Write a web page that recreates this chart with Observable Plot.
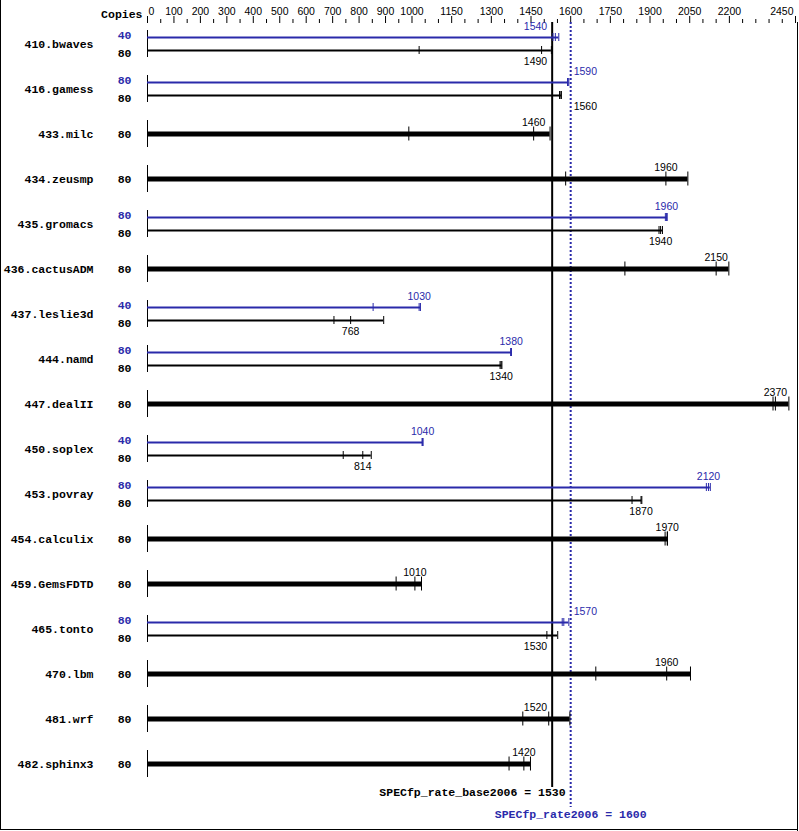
<!DOCTYPE html>
<html><head><meta charset="utf-8">
<script src="https://cdn.jsdelivr.net/npm/d3@7"></script>
<script src="https://cdn.jsdelivr.net/npm/@observablehq/plot@0.6"></script>
<style>
body{margin:0;background:#fff}
#chart{position:relative;width:799px;height:831px;overflow:hidden}
#chart svg{position:absolute;left:0;top:0}
.bl{position:absolute;left:0;top:0;width:798px;height:830px;border-left:1px solid #000;border-bottom:1px solid #000;box-sizing:border-box;pointer-events:none}
.br{position:absolute;left:797px;top:22px;width:1px;height:809px;background:#000}
</style>
</head><body><div id="chart"><div class="bl"></div><div class="br"></div></div>
<script>
// ---- data ----
const benchmarks = ["410.bwaves","416.gamess","433.milc","434.zeusmp","435.gromacs","436.cactusADM","437.leslie3d","444.namd","447.dealII","450.soplex","453.povray","454.calculix","459.GemsFDTD","465.tonto","470.lbm","481.wrf","482.sphinx3"];
const baseCopies = [80,80,80,80,80,80,80,80,80,80,80,80,80,80,80,80,80];
const peakCopies = [40,80,null,null,80,null,40,80,null,40,80,null,null,80,null,null,null];
const baseRuns = [
  [1027,1490,1527],[1558,1560,1565],[988,1460,1522],[1581,1960,2043],[1934,1940,1947],
  [1805,2150,2198],[705,768,893],[1333,1337,1340],[2365,2374,2425],[740,814,846],
  [1832,1866,1869],[1957,1965,1966],[940,1011,1036],[1510,1530,1551],[1695,1963,2053],
  [1419,1517,1597],[1367,1423,1448]
];
const baseMedian = [1490,1560,1460,1960,1940,2150,768,1340,2370,814,1870,1970,1010,1530,1960,1520,1420];
const peakRuns = [
  [1533,1542,1555],[1588,1590,1593],null,null,[1958,1962,1965],
  null,[853,1027,1032],[1373,1375,1376],null,[1038,1040,1042],
  [2113,2121,2128],null,null,[1568,1574,1593],null,null,null
];
const peakMedian = [1540,1590,null,null,1960,null,1030,1380,null,1040,2120,null,null,1570,null,null,null];
const baseMean = 1530;
const peakMean = 1600;
const axisMajor = [0,100,200,300,400,500,600,700,800,900,1000,1150,1300,1450,1600,1750,1900,2050,2200,2450];

// ---- layout / style ----
const BLUE = "#2a2aaa";
const MONO = "'Liberation Mono', 'DejaVu Sans Mono', monospace";
const SANS = "'Liberation Sans', Arial, sans-serif";
const ROW = 45; // px per row
const axisMinor = d3.range(0, 2451, 50).filter(v => !axisMajor.includes(v));
const xs = Plot.scale({x: {domain: [0, 2450], range: [147, 795]}});
const xb = xs.apply(baseMean), xp = xs.apply(peakMean);

const lines = [], ticks = [], labels = [], copies = [];
benchmarks.forEach((name, i) => {
  const pair = peakCopies[i] != null;
  const groups = pair
    ? [{runs: peakRuns[i], med: peakMedian[i], color: BLUE, off: -6.5, w: 2, h: 4, lab: -17, cp: peakCopies[i], cpo: -8.3},
       {runs: baseRuns[i], med: baseMedian[i], color: "black", off: 6.5, w: 2, h: 4, lab: 17.5, cp: baseCopies[i], cpo: 9.8}]
    : [{runs: baseRuns[i], med: baseMedian[i], color: "black", off: 0, w: 5, h: 7, lab: -11.5, cp: baseCopies[i], cpo: 0}];
  for (const g of groups) {
    const y = i + g.off / ROW;
    const sorted = [...g.runs].sort((a, b) => a - b);
    lines.push({y, v: sorted[sorted.length - 1], color: g.color, w: g.w});
    for (const v of sorted) ticks.push({y1: y - g.h / ROW, y2: y + g.h / ROW, v, color: g.color});
    const mv = sorted[1];
    const c = xs.apply(mv);
    const hw = 12;
    const hit = (c - hw < xb + 1 && c + hw > xb - 1) || (c - hw < xp + 1 && c + hw > xp - 1);
    const side = !hit ? "middle" : (c < xb + 4 ? "end" : "start");
    labels.push({y: i + g.lab / ROW, v: mv, text: String(g.med), color: g.color, side});
    copies.push({y: i + g.cpo / ROW, text: String(g.cp), color: g.color});
  }
});

const numStyle = {fontFamily: SANS, fontSize: 10.5};
const monoStyle = {fontFamily: MONO, fontSize: 11.5, fontWeight: "bold"};
const fmt = d => String(d);

const chart = Plot.plot({
  width: 799, height: 831,
  marginTop: 22, marginLeft: 147, marginRight: 4, marginBottom: 44,
  x: {domain: [0, 2450], axis: null},
  y: {domain: [0, 16], range: [43.5, 763.5], axis: null},
  color: {type: "identity"},
  style: {background: "transparent", overflow: "visible"},
  marks: [
    // top axis
    Plot.axisX(axisMajor, {anchor: "top", tickSize: 7, tickFormat: () => "", label: null, stroke: "black"}),
    Plot.axisX(axisMinor, {anchor: "top", tickSize: 4, tickFormat: () => "", label: null, stroke: "black"}),
    Plot.text(axisMajor.slice(1, -1), {x: d => d, text: fmt, frameAnchor: "top", dy: -15, ...numStyle, fill: "black"}),
    Plot.text(axisMajor.slice(0, 1), {x: d => d, text: fmt, frameAnchor: "top", dy: -15, dx: 1, textAnchor: "start", ...numStyle, fill: "black"}),
    Plot.text(axisMajor.slice(-1), {x: d => d, text: fmt, frameAnchor: "top", dy: -15, dx: -2, textAnchor: "end", ...numStyle, fill: "black"}),
    Plot.text(["Copies"], {x: () => 0, frameAnchor: "top", dy: -12.5, dx: -5, textAnchor: "end", ...monoStyle, fill: "black"}),
    // mean lines
    Plot.ruleX([baseMean], {x: d => d, stroke: "black", strokeWidth: 2}),
    Plot.ruleX([peakMean], {x: d => d, stroke: BLUE, strokeWidth: 2, strokeDasharray: "2,2", insetBottom: -20}),
    Plot.text([`SPECfp_rate_base2006 = ${baseMean}`], {x: () => peakMean, frameAnchor: "bottom", dy: 8, dx: -5, textAnchor: "end", ...monoStyle, fill: "black"}),
    Plot.text([`SPECfp_rate2006 = ${peakMean}`], {x: () => peakMean, frameAnchor: "bottom", dy: 30, textAnchor: "middle", ...monoStyle, fill: BLUE}),
    // row left ticks
    Plot.ruleX(benchmarks, {x: () => 0, y1: (d, i) => i - 13.5 / ROW, y2: (d, i) => i + 13.5 / ROW, stroke: "black"}),
    // bars
    Plot.ruleY(lines, {y: "y", x1: () => 0, x2: "v", stroke: "color", strokeWidth: "w"}),
    Plot.ruleX(ticks, {x: "v", y1: "y1", y2: "y2", stroke: "color", strokeWidth: 1}),
    // median labels
    Plot.text(labels.filter(d => d.side === "middle"), {x: "v", y: "y", text: "text", fill: "color", ...numStyle}),
    Plot.text(labels.filter(d => d.side === "end"), {x: () => baseMean, y: "y", dx: -5, textAnchor: "end", text: "text", fill: "color", ...numStyle}),
    Plot.text(labels.filter(d => d.side === "start"), {x: () => peakMean, y: "y", dx: 3, textAnchor: "start", text: "text", fill: "color", ...numStyle}),
    // row names and copies
    Plot.text(benchmarks, {x: () => 0, y: (d, i) => i, dx: -54, textAnchor: "end", text: d => d, ...monoStyle, fill: "black"}),
    Plot.text(copies, {x: () => 0, y: "y", dx: -16, textAnchor: "end", text: "text", fill: "color", ...monoStyle})
  ]
});
document.getElementById("chart").prepend(chart);
</script>
</body></html>
